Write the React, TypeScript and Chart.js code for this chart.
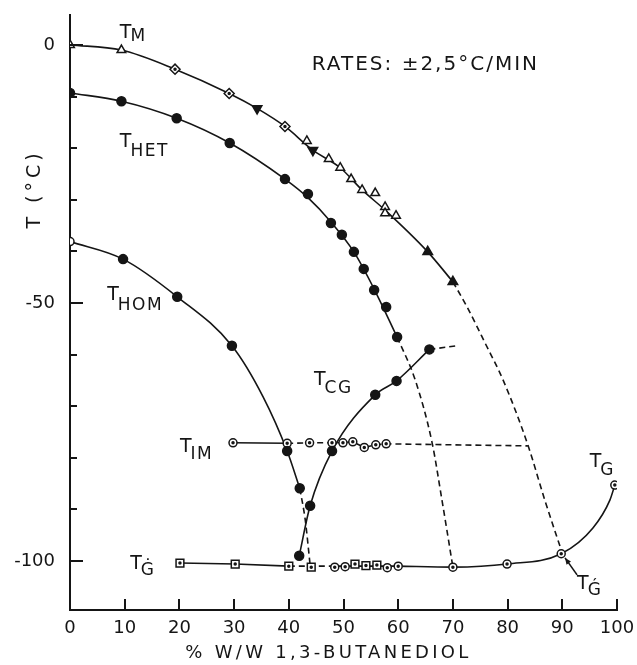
import React, { useEffect, useRef } from "react";
import { Chart, registerables } from "chart.js";

Chart.register(...registerables);

// ---------- axes ----------
const X_TICKS = [0, 10, 20, 30, 40, 50, 60, 70, 80, 90, 100];
const Y_TICKS = [0, -10, -20, -30, -40, -50, -60, -70, -80, -90, -100];
const Y_LABELED = [0, -50, -100];
const X_TITLE = "% W/W 1,3-BUTANEDIOL";
const Y_TITLE = "T (°C)";
const NOTE = "RATES: ±2,5°C/MIN";

// ---------- T_M (melting) ----------
const tmOpenTriX = [0, 9.4, 43.3, 47.3, 49.4, 51.4, 53.4, 55.8, 57.6, 57.6, 59.6];
const tmOpenTriY = [0, -1, -18.6, -22.1, -23.8, -26, -28.1, -28.7, -31.4, -32.6, -33.1];
const tmDiamondX = [19.2, 29.1, 39.3];
const tmDiamondY = [-4.7, -9.4, -15.8];
const tmFilledDownX = [34.2, 44.4];
const tmFilledDownY = [-12.3, -20.4];
const tmFilledUpX = [65.4, 70];
const tmFilledUpY = [-40.1, -45.9];
const tmCurveX = [0, 9.4, 19.2, 29.1, 34.2, 39.3, 44.4, 49.4, 53.4, 57.6, 65.4, 70];
const tmCurveY = [0, -1, -4.7, -9.4, -12.3, -15.8, -20.4, -23.8, -28.1, -32, -40.1, -45.9];
const tmDashX = [70, 72.6, 75.9, 79.2, 83.7, 86.8, 90];
const tmDashY = [-45.9, -50.8, -57.8, -65, -77.5, -88.2, -98.5];

// ---------- T_HET ----------
const hetX = [0, 9.4, 19.5, 29.2, 39.3, 43.5, 47.7, 49.7, 51.9, 53.7, 55.6, 57.8, 59.8];
const hetY = [-9.3, -10.9, -14.2, -19, -26, -28.9, -34.5, -36.8, -40.1, -43.4, -47.5, -50.8, -56.6];
const hetCurveX = [0, 9.4, 19.5, 29.2, 39.3, 43.5, 47.7, 51.9, 55.6, 59.8];
const hetCurveY = [-9.3, -10.9, -14.2, -19, -26, -29.6, -34.3, -40.1, -47.3, -56.6];
const hetDashX = [59.8, 63.1, 66.2, 68, 70];
const hetDashY = [-56.6, -64.9, -77.1, -88.2, -101.2];

// ---------- T_HOM ----------
const homOpenX = [0];
const homOpenY = [-38.1];
const homFilledX = [9.7, 19.6, 29.6, 39.7, 42];
const homFilledY = [-41.5, -48.8, -58.3, -78.7, -85.9];
const homCurveX = [0, 9.7, 19.6, 29.6, 35.3, 39.7, 42];
const homCurveY = [-38.1, -41.5, -48.8, -58.3, -68.2, -78.7, -85.9];
const homDashX = [42, 43, 43.9];
const homDashY = [-85.9, -92, -100.8];

// ---------- T_CG ----------
const cgX = [41.9, 43.9, 47.9, 55.8, 59.7, 65.7];
const cgY = [-99, -89.3, -78.7, -67.8, -65.1, -59];
const cgDashX = [65.7, 70.7];
const cgDashY = [-59, -58.3];

// ---------- T_IM ----------
const imX = [29.8, 39.7, 43.8, 47.9, 49.9, 51.7, 53.8, 55.9, 57.8];
const imY = [-77.1, -77.2, -77.1, -77.1, -77.1, -76.9, -78, -77.5, -77.3];
const imSolidX = [29.8, 39.7];
const imSolidY = [-77.1, -77.2];
const imDashX = [39.7, 43.8, 47.9, 49.9, 51.7, 53.8, 55.9, 57.8, 83.7];
const imDashY = [-77.2, -77.1, -77.1, -77.1, -76.9, -78, -77.5, -77.3, -77.7];

// ---------- T'G / TG ----------
const tgSquareX = [20.1, 30.2, 40, 44.1, 52.1, 54.1, 56.1];
const tgSquareY = [-100.4, -100.6, -101, -101.2, -100.6, -100.9, -100.8];
const tgCircleX = [48.4, 50.3, 58, 60, 70, 79.9, 89.8, 99.6];
const tgCircleY = [-101.2, -101.1, -101.3, -101, -101.2, -100.6, -98.6, -85.3];
const tgSolidX = [20.1, 30.2, 40];
const tgSolidY = [-100.4, -100.6, -101];
const tgDashX = [40, 60];
const tgDashY = [-101, -101];
const tgCurveX = [60, 70, 79.9, 89.8, 95.6, 98.7, 99.6];
const tgCurveY = [-101, -101.2, -100.6, -98.6, -93.6, -88.2, -85.3];

// ---------- annotations (data coordinates) ----------
const LABEL_MAIN = ["T", "T", "T", "T", "T", "T", "T", "T"];
const LABEL_SUB = ["M", "HET", "HOM", "CG", "IM", "Ġ", "G", "Ǵ"];
const LABEL_X = [9.1, 9.1, 6.8, 44.6, 20.1, 11, 95.0, 92.7];
const LABEL_Y = [1.4, -19.8, -49.4, -65.9, -78.9, -101.5, -81.8, -105.4];
const LABEL_DY = [3, 9, 10, 8, 7, 6, 8, 6];
const NOTE_X = 44.2;
const NOTE_Y = -4.8;
const ARROW_FROM = [92.7, -102.7];
const ARROW_TO = [90.5, -99.4];

const INK = "#151515";
const FONT = '"DejaVu Sans", "Liberation Sans", sans-serif';

const pts = (xs: number[], ys: number[]) => xs.map((x, i) => ({ x, y: ys[i] }));

function curve(xs: number[], ys: number[], dashed: boolean, smooth = true) {
  return {
    type: "scatter",
    data: pts(xs, ys),
    showLine: true,
    pointRadius: 0,
    pointHoverRadius: 0,
    borderColor: INK,
    borderWidth: 1.6,
    borderDash: dashed ? [6, 4] : [],
    cubicInterpolationMode: smooth ? "monotone" : "default",
    tension: 0,
    fill: false,
    order: 2,
  };
}

function markers(xs: number[], ys: number[], style: string, radius: number, filled: boolean, rotation = 0, order = 1) {
  return {
    type: "scatter",
    data: pts(xs, ys),
    showLine: false,
    pointStyle: style,
    pointRadius: radius,
    pointHoverRadius: radius,
    pointRotation: rotation,
    pointBackgroundColor: filled ? INK : "#ffffff",
    pointBorderColor: INK,
    pointBorderWidth: 1.5,
    order,
  };
}

const decor = {
  id: "decor",
  afterDraw(chart: any) {
    const { ctx, chartArea: ca, scales } = chart;
    const xs = scales.x;
    const ys = scales.y;
    ctx.save();
    ctx.strokeStyle = INK;
    ctx.fillStyle = INK;
    ctx.lineWidth = 2;
    // inward ticks
    ctx.beginPath();
    for (const v of Y_TICKS) {
      const p = Math.round(ys.getPixelForValue(v));
      const len = v % 50 === 0 ? 13 : 7;
      ctx.moveTo(ca.left, p);
      ctx.lineTo(ca.left + len, p);
    }
    for (const v of X_TICKS) {
      const p = Math.round(xs.getPixelForValue(v));
      ctx.moveTo(p, ca.bottom);
      ctx.lineTo(p, ca.bottom - 11);
    }
    ctx.stroke();

    // curve labels
    ctx.textAlign = "left";
    ctx.textBaseline = "alphabetic";
    for (let i = 0; i < LABEL_MAIN.length; i++) {
      const px = xs.getPixelForValue(LABEL_X[i]);
      const py = ys.getPixelForValue(LABEL_Y[i]);
      ctx.font = `19px ${FONT}`;
      (ctx as any).letterSpacing = "0px";
      ctx.fillText(LABEL_MAIN[i], px, py);
      const w = ctx.measureText(LABEL_MAIN[i]).width;
      ctx.font = `17px ${FONT}`;
      (ctx as any).letterSpacing = "1.5px";
      ctx.fillText(LABEL_SUB[i], px + w - 1, py + LABEL_DY[i]);
    }

    // rates note
    ctx.font = `20px ${FONT}`;
    (ctx as any).letterSpacing = "2px";
    ctx.fillText(NOTE, xs.getPixelForValue(NOTE_X), ys.getPixelForValue(NOTE_Y));

    // arrow
    const ax0 = xs.getPixelForValue(ARROW_FROM[0]);
    const ay0 = ys.getPixelForValue(ARROW_FROM[1]);
    const ax1 = xs.getPixelForValue(ARROW_TO[0]);
    const ay1 = ys.getPixelForValue(ARROW_TO[1]);
    ctx.lineWidth = 1.6;
    ctx.beginPath();
    ctx.moveTo(ax0, ay0);
    ctx.lineTo(ax1, ay1);
    ctx.stroke();
    const ang = Math.atan2(ay1 - ay0, ax1 - ax0);
    ctx.beginPath();
    ctx.moveTo(ax1, ay1);
    ctx.lineTo(ax1 - 7 * Math.cos(ang - 0.4), ay1 - 7 * Math.sin(ang - 0.4));
    ctx.lineTo(ax1 - 7 * Math.cos(ang + 0.4), ay1 - 7 * Math.sin(ang + 0.4));
    ctx.closePath();
    ctx.fill();

    // axis titles
    ctx.font = `18px ${FONT}`;
    (ctx as any).letterSpacing = "3.3px";
    ctx.textAlign = "center";
    ctx.textBaseline = "alphabetic";
    ctx.fillText(X_TITLE, (ca.left + ca.right) / 2 - 15, ca.bottom + 48);

    ctx.translate(ca.left - 35, ca.top + 174);
    ctx.rotate(-Math.PI / 2);
    ctx.font = `19px ${FONT}`;
    (ctx as any).letterSpacing = "4px";
    ctx.textBaseline = "middle";
    ctx.fillText(Y_TITLE, 0, 0);
    ctx.restore();
  },
};

export default function App() {
  const ref = useRef<HTMLCanvasElement | null>(null);

  useEffect(() => {
    if (!ref.current) return;
    const datasets: any[] = [
      // curves
      curve(tmCurveX, tmCurveY, false),
      curve(tmDashX, tmDashY, true),
      curve(hetCurveX, hetCurveY, false),
      curve(hetDashX, hetDashY, true),
      curve(homCurveX, homCurveY, false),
      curve(homDashX, homDashY, true),
      curve(cgX, cgY, false),
      curve(cgDashX, cgDashY, true),
      curve(imSolidX, imSolidY, false, false),
      curve(imDashX, imDashY, true, false),
      curve(tgSolidX, tgSolidY, false, false),
      curve(tgDashX, tgDashY, true, false),
      curve(tgCurveX, tgCurveY, false),
      // markers
      markers(tmOpenTriX, tmOpenTriY, "triangle", 5, false),
      markers(tmDiamondX, tmDiamondY, "rectRot", 5, false),
      markers(tmDiamondX, tmDiamondY, "circle", 1, true, 0, 0),
      markers(tmFilledDownX, tmFilledDownY, "triangle", 5.5, true, 180),
      markers(tmFilledUpX, tmFilledUpY, "triangle", 5.5, true),
      markers(hetX, hetY, "circle", 4.5, true),
      markers(homOpenX, homOpenY, "circle", 4, false),
      markers(homFilledX, homFilledY, "circle", 4.5, true),
      markers(cgX, cgY, "circle", 4.5, true),
      markers(imX, imY, "circle", 4, false),
      markers(imX, imY, "circle", 1, true, 0, 0),
      markers(tgSquareX, tgSquareY, "rect", 5.5, false),
      markers(tgSquareX, tgSquareY, "circle", 1, true, 0, 0),
      markers(tgCircleX, tgCircleY, "circle", 4, false),
      markers(tgCircleX, tgCircleY, "circle", 1, true, 0, 0),
    ];

    const tickFont = { family: FONT, size: 18 };

    const chart = new Chart(ref.current, {
      type: "scatter",
      data: { datasets },
      options: {
        animation: false,
        responsive: false,
        events: [],
        layout: { padding: { left: 0, right: 20, top: 15, bottom: 0 } },
        plugins: {
          legend: { display: false },
          tooltip: { enabled: false },
          title: { display: false },
        },
        scales: {
          x: {
            type: "linear",
            position: "bottom",
            min: 0,
            max: 100,
            grid: { display: false, drawTicks: false, tickLength: 0 },
            border: { display: true, color: INK, width: 2 },
            ticks: {
              font: tickFont,
              color: INK,
              padding: 8,
              autoSkip: false,
              maxRotation: 0,
              callback: (v: any) => String(v),
            },
            afterBuildTicks: (s: any) => {
              s.ticks = X_TICKS.map((v) => ({ value: v }));
            },
            afterFit: (s: any) => {
              s.height = 55;
              s.paddingLeft = 0;
              s.paddingRight = 0;
              s.paddingTop = 0;
              s.paddingBottom = 0;
            },
          },
          y: {
            type: "linear",
            position: "left",
            min: -109.5,
            max: 5.8,
            grid: { display: false, drawTicks: false, tickLength: 0 },
            border: { display: true, color: INK, width: 2 },
            ticks: {
              font: tickFont,
              color: INK,
              padding: 15,
              autoSkip: false,
              callback: (v: any) => (Y_LABELED.includes(v) ? String(v) : ""),
            },
            afterBuildTicks: (s: any) => {
              s.ticks = Y_TICKS.map((v) => ({ value: v }));
            },
            afterFit: (s: any) => {
              s.width = 70;
              s.paddingLeft = 0;
              s.paddingRight = 0;
              s.paddingTop = 0;
              s.paddingBottom = 0;
            },
          },
        },
      },
      plugins: [decor],
    } as any);

    return () => chart.destroy();
  }, []);

  return (
    <div style={{ position: "absolute", left: 0, top: 0, width: 637, height: 665, background: "#ffffff" }}>
      <canvas ref={ref} width={637} height={665} style={{ display: "block" }} />
    </div>
  );
}
